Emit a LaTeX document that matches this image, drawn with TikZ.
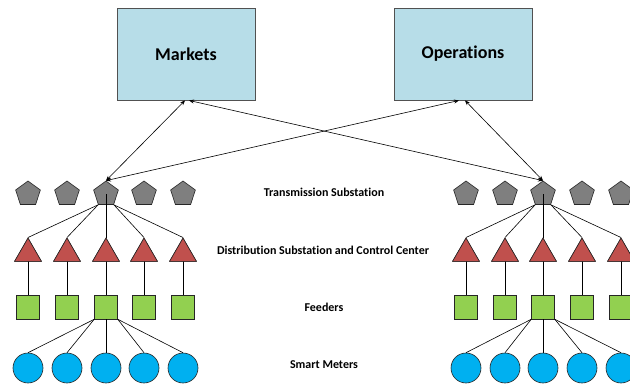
\documentclass[tikz,border=0pt]{standalone}
\usepackage{fontspec}
\setmainfont{Carlito}[Ligatures=NoCommon]
\usetikzlibrary{shapes.geometric,arrows.meta}
\definecolor{boxblue}{HTML}{B7DDE8}
\definecolor{pentgray}{HTML}{7F7F7F}
\definecolor{trired}{HTML}{C0504D}
\definecolor{sqgreen}{HTML}{92D050}
\definecolor{circblue}{HTML}{00B0F0}
\definecolor{edge}{HTML}{262626}
\tikzset{
  topbox/.style={draw=edge!80,fill=boxblue,line width=0.9pt,minimum width=138pt,minimum height=92pt,inner sep=0pt,font=\bfseries\fontsize{18}{21}\selectfont},
  pent/.style={regular polygon,regular polygon sides=5,draw=edge,fill=pentgray,line width=0.6pt,minimum size=26pt,inner sep=0pt},
  tri/.style={regular polygon,regular polygon sides=3,draw=edge,fill=trired,line width=0.6pt,minimum size=31pt,inner sep=0pt},
  sq/.style={rectangle,draw=edge,fill=sqgreen,line width=0.6pt,minimum width=23pt,minimum height=24pt,inner sep=0pt},
  meter/.style={circle,draw=edge,fill=circblue,line width=0.6pt,minimum size=30pt,inner sep=0pt},
  lbl/.style={font=\bfseries\fontsize{12}{14}\selectfont},
  conn/.style={draw=black,line width=0.6pt},
  link/.style={draw=black,line width=0.6pt,{Stealth[length=5pt,width=4pt]}-{Stealth[length=5pt,width=4pt]}}
}
\begin{document}
\begin{tikzpicture}[x=1pt,y=-1pt]
\useasboundingbox (0,0) rectangle (630,386);
\clip (0,0) rectangle (630,386);
% top boxes
\node[topbox] (mk) at (186,54) {Markets};
\node[topbox] (op) at (463,54) {Operations};
% labels
\node[lbl] (lt) at (324,192) {Transmission Substation};
\node[lbl] (ld) at (323,250) {Distribution Substation and Control Center};
\node[lbl] (lf) at (324,307) {Feeders};
\node[lbl] (ls) at (324,365) {Smart Meters};
% left tree
\foreach \i/\x in {1/28,2/67,3/106,4/144,5/183}{
  \node[tri] (Lt\i) at (\x,253.6) {};
}
\foreach \i/\x in {1/28,2/67,3/106,4/144,5/183}{
  \node[sq] (Lq\i) at (\x,307) {};
  \draw[conn] (Lt\i.center) -- (Lq\i.north);
}
\foreach \i in {1,...,5}{\node[tri] at (Lt\i) {};}
\foreach \i/\x in {1/28,2/67,3/106,4/144,5/183}{
  \node[pent] (Lp\i) at (\x,194) {};
  \node[meter] (Lm\i) at (\x,368) {};
}
\draw[conn] (Lp3.corner 3) -- (Lt1.corner 1);
\draw[conn] (Lp3.corner 3) -- (Lt2.corner 1);
\draw[conn] (Lp3.center) -- (Lt3.corner 1);
\draw[conn] (Lp3.corner 4) -- (Lt4.corner 1);
\draw[conn] (Lp3.corner 4) -- (Lt5.corner 1);
\draw[conn] (Lq3.south west) -- (Lm1.north);
\draw[conn] (Lq3.south west) -- (Lm2.north);
\draw[conn] (Lq3.south) -- (Lm3.north);
\draw[conn] (Lq3.south east) -- (Lm4.north);
\draw[conn] (Lq3.south east) -- (Lm5.north);
% right tree
\foreach \i/\x in {1/466,2/505,3/543,4/582,5/621}{
  \node[tri] (Rt\i) at (\x,253.6) {};
}
\foreach \i/\x in {1/466,2/505,3/543,4/582,5/621}{
  \node[sq] (Rq\i) at (\x,307) {};
  \draw[conn] (Rt\i.center) -- (Rq\i.north);
}
\foreach \i in {1,...,5}{\node[tri] at (Rt\i) {};}
\foreach \i/\x in {1/466,2/505,3/543,4/582,5/621}{
  \node[pent] (Rp\i) at (\x,194) {};
  \node[meter] (Rm\i) at (\x,368) {};
}
\draw[conn] (Rp3.corner 3) -- (Rt1.corner 1);
\draw[conn] (Rp3.corner 3) -- (Rt2.corner 1);
\draw[conn] (Rp3.center) -- (Rt3.corner 1);
\draw[conn] (Rp3.corner 4) -- (Rt4.corner 1);
\draw[conn] (Rp3.corner 4) -- (Rt5.corner 1);
\draw[conn] (Rq3.south west) -- (Rm1.north);
\draw[conn] (Rq3.south west) -- (Rm2.north);
\draw[conn] (Rq3.south) -- (Rm3.north);
\draw[conn] (Rq3.south east) -- (Rm4.north);
\draw[conn] (Rq3.south east) -- (Rm5.north);
% links
\draw[link] (Lp3.corner 1) -- ([xshift=-1pt]mk.south);
\draw[link] ([xshift=3pt]mk.south) -- (Rp3.corner 1);
\draw[link] (Lp3.corner 1) -- ([xshift=-4pt]op.south);
\draw[link] ([xshift=2pt]op.south) -- (Rp3.corner 1);
\end{tikzpicture}
\end{document}
